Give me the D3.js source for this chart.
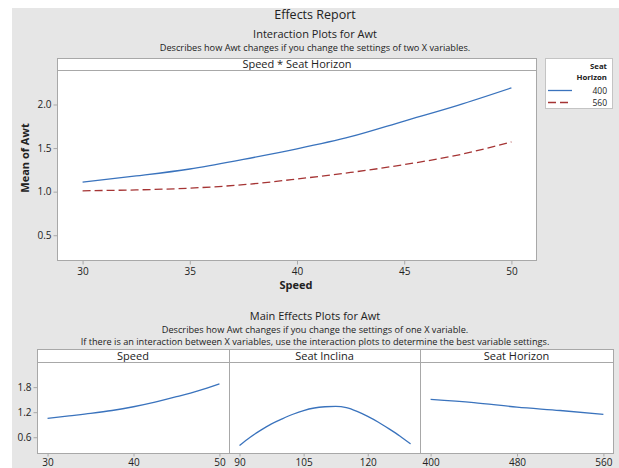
<!DOCTYPE html>
<html><head><meta charset="utf-8">
<script src="https://cdn.jsdelivr.net/npm/d3@7"></script>
<style>body{margin:0;background:#fff}svg{display:block}text{font-family:"Open Sans",sans-serif;fill:#222}</style>
</head><body><svg id="c" width="619" height="468"></svg>
<script>
// ---- data ----
const speedX = [30, 32.5, 35, 37.5, 40, 42.5, 45, 47.5, 50];
const horizon400 = [1.11, 1.18, 1.26, 1.37, 1.49, 1.63, 1.81, 1.99, 2.19];
const horizon560 = [1.01, 1.02, 1.04, 1.08, 1.145, 1.22, 1.31, 1.42, 1.57];
const legendLevels = ["400", "560"];
const interTicksX = [30, 35, 40, 45, 50];
const interTicksY = [0.5, 1.0, 1.5, 2.0];

const mainSpeedY = [1.05, 1.11, 1.17, 1.24, 1.33, 1.44, 1.57, 1.71, 1.88];
const inclinaX = [90, 92.5, 95, 97.5, 100, 102.5, 105, 107.5, 110, 112.5, 115, 117.5, 120, 122.5, 125, 127.5, 130];
const inclinaY = [0.40, 0.60, 0.77, 0.92, 1.04, 1.15, 1.24, 1.30, 1.33, 1.34, 1.31, 1.22, 1.10, 0.96, 0.80, 0.63, 0.44];
const horizonX = [400, 440, 480, 520, 560];
const horizonY = [1.505, 1.43, 1.32, 1.24, 1.145];
const mainTicksY = [0.6, 1.2, 1.8];
const panelNames = ["Speed", "Seat Inclina", "Seat Horizon"];
const panelTicks = [[30, 40, 50], [90, 105, 120], [400, 480, 560]];
const panelDomains = [[30, 50], [90, 130], [400, 560]];

// ---- drawing ----
const svg = d3.select("#c");
const gridC = "#a8a8a8", blue = "#3a73bd", red = "#a53434";
svg.append("rect").attr("x", 12).attr("y", 8).attr("width", 607).attr("height", 460).attr("fill", "#e6e6e6");

function txt(x, y, s, size, opts = {}) {
  const t = svg.append("text").attr("x", x).attr("y", y).attr("font-size", size)
    .attr("text-anchor", opts.anchor || "middle").text(s);
  if (opts.bold) t.attr("font-weight", "bold");
  return t;
}
txt(315, 19, "Effects Report", 12.5);
txt(315, 37.5, "Interaction Plots for Awt", 11);
txt(315, 50.5, "Describes how Awt changes if you change the settings of two X variables.", 9.2);

// interaction plot
const iL = 57.5, iR = 536.5, iT = 70.5, iB = 260.5;
const pad = r => { const d = (r[1] - r[0]) * 0.0585; return [r[0] - d, r[1] + d]; };
const yDom = [0.21, 2.39];
const ix = d3.scaleLinear().domain(pad([30, 50])).range([iL, iR]);
const iy = d3.scaleLinear().domain(yDom).range([iB, iT]);
svg.append("rect").attr("x", iL).attr("y", 58.5).attr("width", iR - iL).attr("height", iT - 58.5)
  .attr("fill", "#fff").attr("stroke", gridC);
txt((iL + iR) / 2, 68, "Speed * Seat Horizon", 11);
svg.append("rect").attr("x", iL).attr("y", iT).attr("width", iR - iL).attr("height", iB - iT)
  .attr("fill", "#fff").attr("stroke", gridC);

const fontF = '"Open Sans",sans-serif';
const axX = svg.append("g").attr("transform", `translate(0,${iB})`)
  .call(d3.axisBottom(ix).tickValues(interTicksX).tickSize(4).tickPadding(3).tickFormat(d3.format("d")));
const axY = svg.append("g").attr("transform", `translate(${iL},0)`)
  .call(d3.axisLeft(iy).tickValues(interTicksY).tickSize(4).tickPadding(2).tickFormat(d3.format(".1f")));
[axX, axY].forEach(a => {
  a.select(".domain").remove();
  a.selectAll("line").attr("stroke", gridC);
  a.selectAll("text").attr("font-size", 10).attr("fill", "#222").attr("font-family", fontF);
});
txt(296, 289, "Speed", 11, { bold: true });
svg.append("text").attr("transform", "translate(29,158) rotate(-90)").attr("text-anchor", "middle")
  .attr("font-size", 11).attr("font-weight", "bold").text("Mean of Awt");

const line = (xs, sx, sy) => d3.line().x((d, i) => sx(xs[i])).y(d => sy(d)).curve(d3.curveMonotoneX);
svg.append("path").attr("d", line(speedX, ix, iy)(horizon400)).attr("fill", "none").attr("stroke", blue).attr("stroke-width", 1.3);
svg.append("path").attr("d", line(speedX, ix, iy)(horizon560)).attr("fill", "none").attr("stroke", red).attr("stroke-width", 1.3).attr("stroke-dasharray", "8,4");

// legend
svg.append("rect").attr("x", 545.5).attr("y", 58.5).attr("width", 67).attr("height", 50).attr("fill", "#fff").attr("stroke", "#c4c4c4");
txt(607, 69, "Seat", 7.8, { anchor: "end", bold: true });
txt(607, 80, "Horizon", 7.8, { anchor: "end", bold: true });
legendLevels.forEach((lv, i) => {
  const y = 90.5 + i * 12;
  svg.append("line").attr("x1", 548).attr("x2", 572).attr("y1", y).attr("y2", y)
    .attr("stroke", i ? red : blue).attr("stroke-width", 1.3).attr("stroke-dasharray", i ? "8,4" : null);
  txt(607, y + 3, lv, 8.5, { anchor: "end" });
});

// main effects
txt(315, 319.5, "Main Effects Plots for Awt", 11);
txt(315, 332.6, "Describes how Awt changes if you change the settings of one X variable.", 9.2);
txt(315, 345.2, "If there is an interaction between X variables, use the interaction plots to determine the best variable settings.", 9.2);

const panX = [[37, 229], [229, 420], [420, 613]];
const hT = 349.5, pT = 362.5, pB = 453.5;
const my = d3.scaleLinear().domain(yDom).range([pB, pT]);
const mainData = [[speedX, mainSpeedY], [inclinaX, inclinaY], [horizonX, horizonY]];
panX.forEach((p, k) => {
  const [a, b] = p;
  const sx = d3.scaleLinear().domain(pad(panelDomains[k])).range([a + 0.5, b + 0.5]);
  svg.append("rect").attr("x", a + 0.5).attr("y", hT).attr("width", b - a).attr("height", pT - hT).attr("fill", "#fff").attr("stroke", gridC);
  txt((a + b) / 2, hT + 10.5, panelNames[k], 11);
  svg.append("rect").attr("x", a + 0.5).attr("y", pT).attr("width", b - a).attr("height", pB - pT).attr("fill", "#fff").attr("stroke", gridC);
  const ax = svg.append("g").attr("transform", `translate(0,${pB})`)
    .call(d3.axisBottom(sx).tickValues(panelTicks[k]).tickSize(3).tickPadding(2).tickFormat(d3.format("d")));
  ax.select(".domain").remove();
  ax.selectAll("line").attr("stroke", gridC);
  ax.selectAll("text").attr("font-size", 10).attr("fill", "#222").attr("font-family", fontF);
  const [xs, ys] = mainData[k];
  svg.append("path").attr("d", line(xs, sx, my)(ys)).attr("fill", "none").attr("stroke", blue).attr("stroke-width", 1.3);
});
const may = svg.append("g").attr("transform", `translate(37.5,0)`)
  .call(d3.axisLeft(my).tickValues(mainTicksY).tickSize(4).tickPadding(2).tickFormat(d3.format(".1f")));
may.select(".domain").remove();
may.selectAll("line").attr("stroke", gridC);
may.selectAll("text").attr("font-size", 10).attr("fill", "#222").attr("font-family", fontF);
</script></body></html>
